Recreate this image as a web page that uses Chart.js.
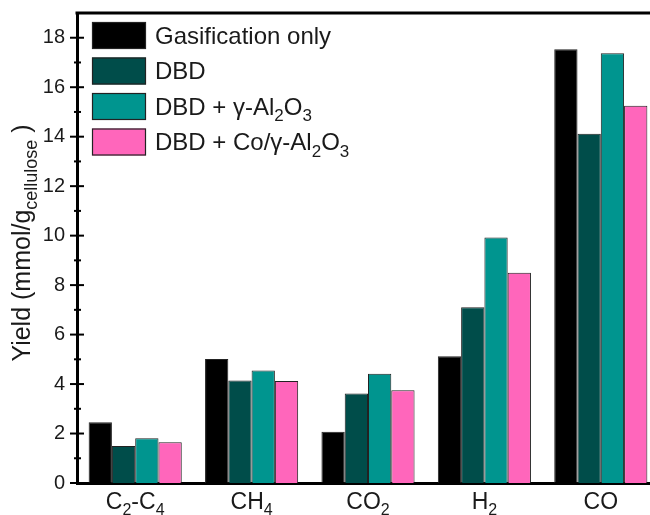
<!DOCTYPE html>
<html>
<head>
<meta charset="utf-8">
<script src="https://cdn.jsdelivr.net/npm/chart.js@4.4.1/dist/chart.umd.min.js"></script>
<style>
  html, body { margin: 0; padding: 0; background: #fff; overflow: hidden; }
  canvas { display: block; }
</style>
</head>
<body>
<canvas id="myChart" width="665" height="515"></canvas>
<script>
// Data (subscripts written as _{...})
const categories = ['C_{2}-C_{4}', 'CH_{4}', 'CO_{2}', 'H_{2}', 'CO']
const seriesLabels = [
  'Gasification only',
  'DBD',
  'DBD + γ-Al_{2}O_{3}',
  'DBD + Co/γ-Al_{2}O_{3}'
]
const gasification = [2.46, 5.01, 2.07, 5.12, 17.53]
const dbd = [1.50, 4.14, 3.62, 7.10, 14.12]
const dbdAl2O3 = [1.81, 4.55, 4.42, 9.92, 17.37]
const dbdCoAl2O3 = [1.65, 4.12, 3.75, 8.50, 15.25]
const seriesColors = ['#000000', '#004d4a', '#00958f', '#ff66bb']
const yTitle = 'Yield (mmol/g_{cellulose} )'

const FONT = '"Liberation Sans", Arial, sans-serif'
const TEXT = '#1a1a1a'

// draw text with _{...} subscripts
function richParts (text) {
  const parts = []
  const re = /_\{([^}]*)\}/g
  let last = 0
  let m
  while ((m = re.exec(text)) !== null) {
    if (m.index > last) parts.push({ t: text.slice(last, m.index), sub: false })
    parts.push({ t: m[1], sub: true })
    last = re.lastIndex
  }
  if (last < text.length) parts.push({ t: text.slice(last), sub: false })
  return parts
}

function drawRich (ctx, text, x, y, size, align) {
  const parts = richParts(text)
  const subSize = Math.round(size * 0.7)
  let total = 0
  parts.forEach(p => {
    ctx.font = (p.sub ? subSize : size) + 'px ' + FONT
    p.w = ctx.measureText(p.t).width
    total += p.w
  })
  let cx = x
  if (align === 'center') cx = x - total / 2
  ctx.textAlign = 'left'
  ctx.textBaseline = 'alphabetic'
  parts.forEach(p => {
    ctx.font = (p.sub ? subSize : size) + 'px ' + FONT
    ctx.fillText(p.t, cx, p.sub ? y + size * 0.28 : y)
    cx += p.w
  })
}

const decorations = {
  id: 'decorations',
  afterDraw (chart) {
    const ctx = chart.ctx
    const area = chart.chartArea
    const ys = chart.scales.y
    const xs = chart.scales.x
    ctx.save()

    // top frame line
    ctx.fillStyle = '#000'
    ctx.fillRect(area.left - 1.5, area.top - 1.5, area.right - area.left + 3, 3)

    // y ticks, in and out
    ctx.strokeStyle = '#000'
    for (let v = 0; v <= 18; v++) {
      const py = ys.getPixelForValue(v)
      const major = v % 2 === 0
      ctx.lineWidth = 2
      ctx.beginPath()
      ctx.moveTo(area.left - (major ? 7 : 3), py)
      ctx.lineTo(area.left + (major ? 7 : 4), py)
      ctx.stroke()
    }

    // x labels
    ctx.fillStyle = TEXT
    categories.forEach((c, i) => {
      drawRich(ctx, c, xs.getPixelForValue(i), 509, 23, 'center')
    })

    // y title
    ctx.save()
    ctx.translate(30, 243)
    ctx.rotate(-Math.PI / 2)
    drawRich(ctx, yTitle, 0, 0, 25, 'center')
    ctx.restore()

    // legend
    chart.data.datasets.forEach((ds, i) => {
      const top = 22 + i * 35.5
      ctx.fillStyle = ds.backgroundColor
      ctx.fillRect(92, top, 54, 27)
      ctx.strokeStyle = '#222'
      ctx.lineWidth = 1.2
      ctx.strokeRect(92.5, top + 0.5, 53, 26)
      ctx.fillStyle = TEXT
      drawRich(ctx, seriesLabels[i], 155, top + 21.5, 24, 'left')
    })
    ctx.restore()
  }
}

const datasets = [gasification, dbd, dbdAl2O3, dbdCoAl2O3].map((d, i) => ({
  label: seriesLabels[i],
  data: d,
  backgroundColor: seriesColors[i],
  borderColor: '#222',
  borderWidth: 1,
  barPercentage: 1.0,
  categoryPercentage: 0.8
}))

const ctx = document.getElementById('myChart')
// eslint-disable-next-line no-unused-vars
const myChart = new Chart(ctx, {
  type: 'bar',
  data: { labels: categories, datasets },
  options: {
    responsive: false,
    animation: false,
    layout: { padding: { top: 13, right: 6, left: 0, bottom: 0 } },
    plugins: { legend: { display: false }, tooltip: { enabled: false } },
    scales: {
      x: {
        ticks: { display: false },
        grid: { display: false },
        border: { display: true, color: '#000', width: 3 },
        afterFit: s => { s.height = 32; s.paddingLeft = 0; s.paddingRight = 0 }
      },
      y: {
        min: 0,
        max: 19,
        ticks: {
          stepSize: 1,
          padding: 12,
          color: TEXT,
          font: { family: FONT, size: 20 },
          callback: v => (v % 2 === 0 && v <= 18 ? v : '')
        },
        grid: { display: false, drawTicks: false },
        border: { display: true, color: '#000', width: 3 },
        afterFit: s => { s.width = 77; s.paddingTop = 0; s.paddingBottom = 0 }
      }
    }
  },
  plugins: [decorations]
})
</script>
</body>
</html>
